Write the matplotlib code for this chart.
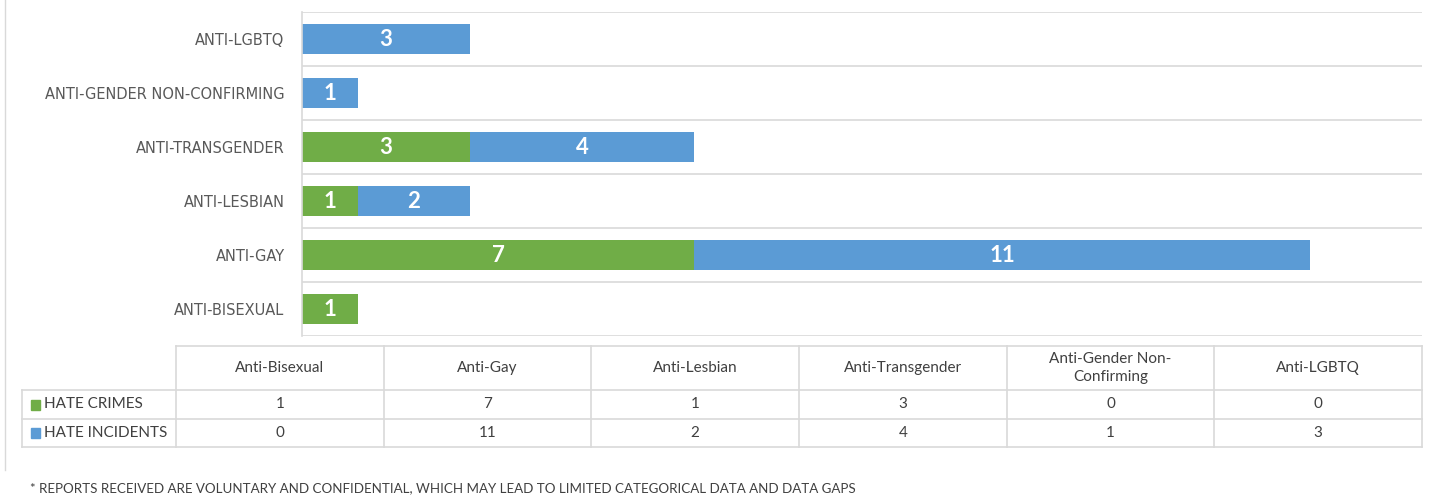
import matplotlib.pyplot as plt
import numpy as np

plt.rcParams['font.family'] = ['Lato', 'DejaVu Sans']

categories = ['Anti-Bisexual', 'Anti-Gay', 'Anti-Lesbian', 'Anti-Transgender',
              'Anti-Gender Non-\nConfirming', 'Anti-LGBTQ']
axis_labels = ['ANTI-BISEXUAL', 'ANTI-GAY', 'ANTI-LESBIAN', 'ANTI-TRANSGENDER',
               'ANTI-GENDER NON-CONFIRMING', 'ANTI-LGBTQ']
hate_crimes = [1, 7, 1, 3, 0, 0]
hate_incidents = [0, 11, 2, 4, 1, 3]
series_names = ['HATE CRIMES', 'HATE INCIDENTS']
footnote = '* REPORTS RECEIVED ARE VOLUNTARY AND CONFIDENTIAL, WHICH MAY LEAD TO LIMITED CATEGORICAL DATA AND DATA GAPS'

green = '#70AD47'
blue = '#5B9BD5'
grid_col = '#D9D9D9'
text_col = '#404040'

W, H = 1440, 500
fig = plt.figure(figsize=(W / 100, H / 100), dpi=100)

def fig_rect(x0, y0, x1, y1):
    # pixel box (top-left origin) -> figure fraction
    return [x0 / W, 1 - y1 / H, (x1 - x0) / W, (y1 - y0) / H]

ax = fig.add_axes(fig_rect(302, 12, 1422, 336))
y = np.arange(len(categories))
crimes = np.array(hate_crimes)
incidents = np.array(hate_incidents)
b1 = ax.barh(y, crimes, height=0.56, color=green)
b2 = ax.barh(y, incidents, left=crimes, height=0.56, color=blue)

for bars, vals in [(b1, crimes), (b2, incidents)]:
    for bar, v in zip(bars, vals):
        if v > 0:
            ax.text(bar.get_x() + bar.get_width() / 2, bar.get_y() + bar.get_height() / 2,
                    str(v), ha='center', va='center', color='white',
                    fontsize=16, fontweight='bold')

ax.set_xlim(0, 20)
ax.set_ylim(-0.5, len(categories) - 0.5)
ax.set_yticks(y)
ax.set_yticklabels(axis_labels, fontsize=10.5, color='#595959', family='DejaVu Sans')
ax.tick_params(axis='y', length=0, pad=12.5)
ax.set_xticks([])
for yy in np.arange(-0.5, len(categories), 1):
    ax.axhline(yy, color=grid_col, lw=1.2, zorder=0)
for s in ['top', 'right', 'bottom']:
    ax.spines[s].set_visible(False)
ax.spines['left'].set_color(grid_col)
ax.spines['left'].set_linewidth(1.2)

# data table below the chart
tax = fig.add_axes(fig_rect(0, 340, W, 460))
tax.set_xlim(0, W)
tax.set_ylim(460, 340)
tax.axis('off')

col_edges = np.linspace(176, 1422, len(categories) + 1)
row_edges = [346, 390, 419, 447]
lab_left = 22

# horizontal lines
tax.plot([176, 1422], [row_edges[0]] * 2, color=grid_col, lw=1.2)
for r in row_edges[1:]:
    tax.plot([lab_left, 1422], [r, r], color=grid_col, lw=1.2)
# vertical lines
tax.plot([lab_left, lab_left], [row_edges[1], row_edges[3]], color=grid_col, lw=1.2)
for c in col_edges:
    tax.plot([c, c], [row_edges[0], row_edges[3]], color=grid_col, lw=1.2)

for i, cat in enumerate(categories):
    cx = (col_edges[i] + col_edges[i + 1]) / 2
    tax.text(cx, (row_edges[0] + row_edges[1]) / 2, cat, ha='center', va='center',
             fontsize=11, color=text_col, linespacing=1.3)
    tax.text(cx, (row_edges[1] + row_edges[2]) / 2, str(hate_crimes[i]), ha='center',
             va='center', fontsize=11, color=text_col)
    tax.text(cx, (row_edges[2] + row_edges[3]) / 2, str(hate_incidents[i]), ha='center',
             va='center', fontsize=11, color=text_col)

for k, (name, col) in enumerate(zip(series_names, [green, blue])):
    yc = (row_edges[k + 1] + row_edges[k + 2]) / 2
    tax.add_patch(plt.Rectangle((lab_left + 9, yc - 5), 9, 10, color=col))
    tax.text(lab_left + 22, yc, name, ha='left', va='center', fontsize=11, color=text_col)

fig.text(30 / W, 1 - 488 / H, footnote, ha='left', va='center', fontsize=9.6, color=text_col)

# thin frame line on the left edge of the picture
fig.add_artist(plt.Line2D([5 / W, 5 / W], [1 - 470 / H, 1], color=grid_col, lw=1,
                          transform=fig.transFigure))

fig.savefig('out.png', dpi=100, facecolor='white')
